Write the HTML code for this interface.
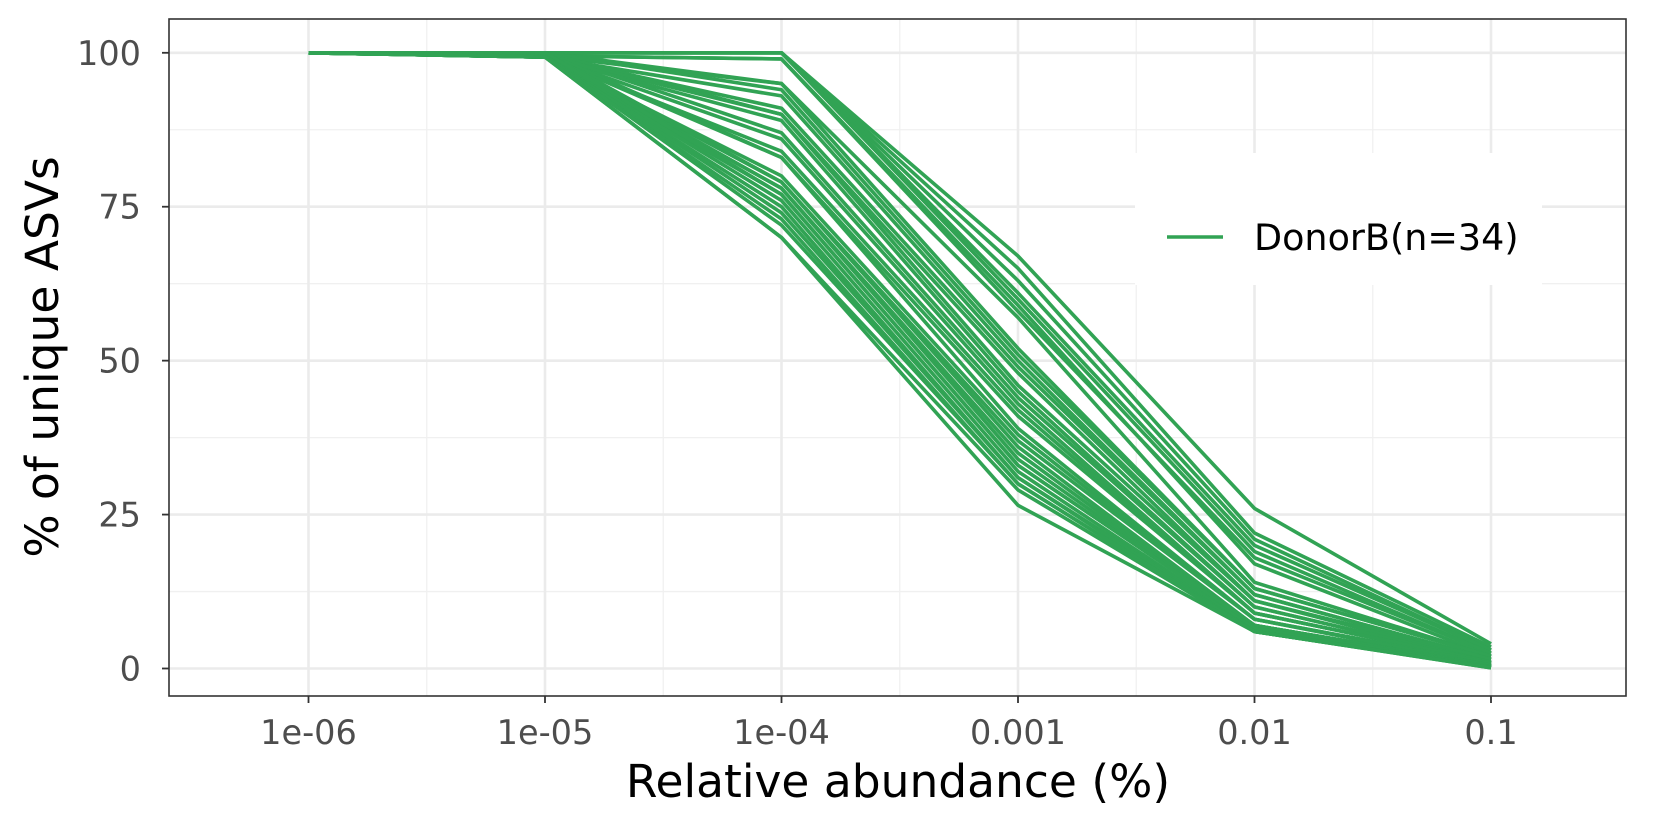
<!DOCTYPE html>
<html><head><meta charset="utf-8"><style>
body{margin:0;background:#fff;}
svg text{font-family:"DejaVu Sans","Liberation Sans",sans-serif;}
</style></head><body>
<svg id="chart" width="1653" height="826" xmlns="http://www.w3.org/2000/svg"></svg>
<script>
const xLabels=["1e-06","1e-05","1e-04","0.001","0.01","0.1"];
const yTicks=[0,25,50,75,100];
const v1e6=[100,100,100,100,100,100,100,100,100,100,100,100,100,100,100,100,100,100,100,100,100,100,100,100,100,100,100,100,100,100,100,100,100,100];
const v1e5=[100,100,100,100,100,99.5,99.5,100,99.5,100,99.3,99.5,100,99.5,99.3,100,99.5,99.3,100,99.5,99.3,99.5,100,99.3,99.5,99.3,100,99.5,99.3,99.5,99.3,99.5,99.3,99.3];
const v1e4=[100,100,100,100,100,99,99,95,95,94,93,91,90,90,89,87,86,84,83,83,80,79,79,78,78,77,77,76,75,74,73,72,70,70];
const v1e3=[67,65,63,61,60,58,59,57,52,51,50,49,46,48,45,44,43,42,41,39,38,37,36,35,34,33,33,32,31,31,30,30,29,26.5];
const v1e2=[26,22,21,20,19,18,17,14,13,13,12,12,11,11,10,10,9,9,9,8,8,8,7,7,7,7,7,6.5,6.5,6,6,6,6,6];
const v1e1=[4,3.5,3,3,2.5,2.5,2,2,2,2,1.5,1.5,1.5,1,1,1,1,1,1,0.8,0.8,0.5,0.5,0.5,0.5,0.5,0.3,0.3,0.3,0.2,0.2,0.2,0.1,0.1];
const series=[v1e6,v1e5,v1e4,v1e3,v1e2,v1e1];
const NS="http://www.w3.org/2000/svg";
const svg=document.getElementById('chart');
const L=169,R=1626,T=19,B=696;
const xs=i=>308.5+i*236.5;
const ys=v=>668.5-v*(668.5-52.8)/100;
function mk(tag,attrs,parent){const e=document.createElementNS(NS,tag);for(const k in attrs)e.setAttribute(k,attrs[k]);(parent||svg).appendChild(e);return e;}
const grid=mk('g',{});


for(let i=0;i<yTicks.length-1;i++){const v=(yTicks[i]+yTicks[i+1])/2;mk('line',{x1:L,x2:R,y1:ys(v),y2:ys(v),stroke:'#f0f0f0','stroke-width':1.3},grid);}
for(let i=0;i<xLabels.length-1;i++){const x=(xs(i)+xs(i+1))/2;mk('line',{x1:x,x2:x,y1:T,y2:B,stroke:'#f0f0f0','stroke-width':1.3},grid);}
yTicks.forEach(v=>mk('line',{x1:L,x2:R,y1:ys(v),y2:ys(v),stroke:'#ebebeb','stroke-width':2.6},grid));
xLabels.forEach((l,i)=>mk('line',{x1:xs(i),x2:xs(i),y1:T,y2:B,stroke:'#ebebeb','stroke-width':2.6},grid));
const lines=mk('g',{});


for(let s=0;s<v1e4.length;s++){
  const pts=series.map((arr,i)=>xs(i)+','+ys(arr[s])).join(' ');
  const p=mk('polyline',{points:pts,fill:'none',stroke:'#31a354','stroke-width':3.6,'stroke-linejoin':'round'},lines);
  
  
}
const lg=mk('g',{});


mk('rect',{x:1135,y:153,width:407,height:132,fill:'#fff'},lg);
mk('line',{x1:1167,x2:1223,y1:237,y2:237,stroke:'#31a354','stroke-width':3.6},lg);
const lt=mk('text',{x:1254,y:250,'font-size':36.5,fill:'#000'},lg);lt.textContent='DonorB(n=34)';


mk('rect',{x:L,y:T,width:R-L,height:B-T,fill:'none',stroke:'#333','stroke-width':1.6});
yTicks.forEach(v=>{mk('line',{x1:L-7,x2:L,y1:ys(v),y2:ys(v),stroke:'#333','stroke-width':1.8});
  const t=mk('text',{x:L-28,y:ys(v)+12,'font-size':33.5,fill:'#4d4d4d','text-anchor':'end'});t.textContent=v;
  
  });
xLabels.forEach((l,i)=>{mk('line',{x1:xs(i),x2:xs(i),y1:B,y2:B+7,stroke:'#333','stroke-width':1.8});
  const t=mk('text',{x:xs(i),y:744,'font-size':33.5,fill:'#4d4d4d','text-anchor':'middle'});t.textContent=l;
  
  });
const xt=mk('text',{x:898,y:797,'font-size':45.5,fill:'#000','text-anchor':'middle'});xt.textContent='Relative abundance (%)';


const yt=mk('text',{x:0,y:0,'font-size':45.5,fill:'#000','text-anchor':'middle',transform:'translate(58,357) rotate(-90)'});yt.textContent='% of unique ASVs';


</script>
</body></html>
